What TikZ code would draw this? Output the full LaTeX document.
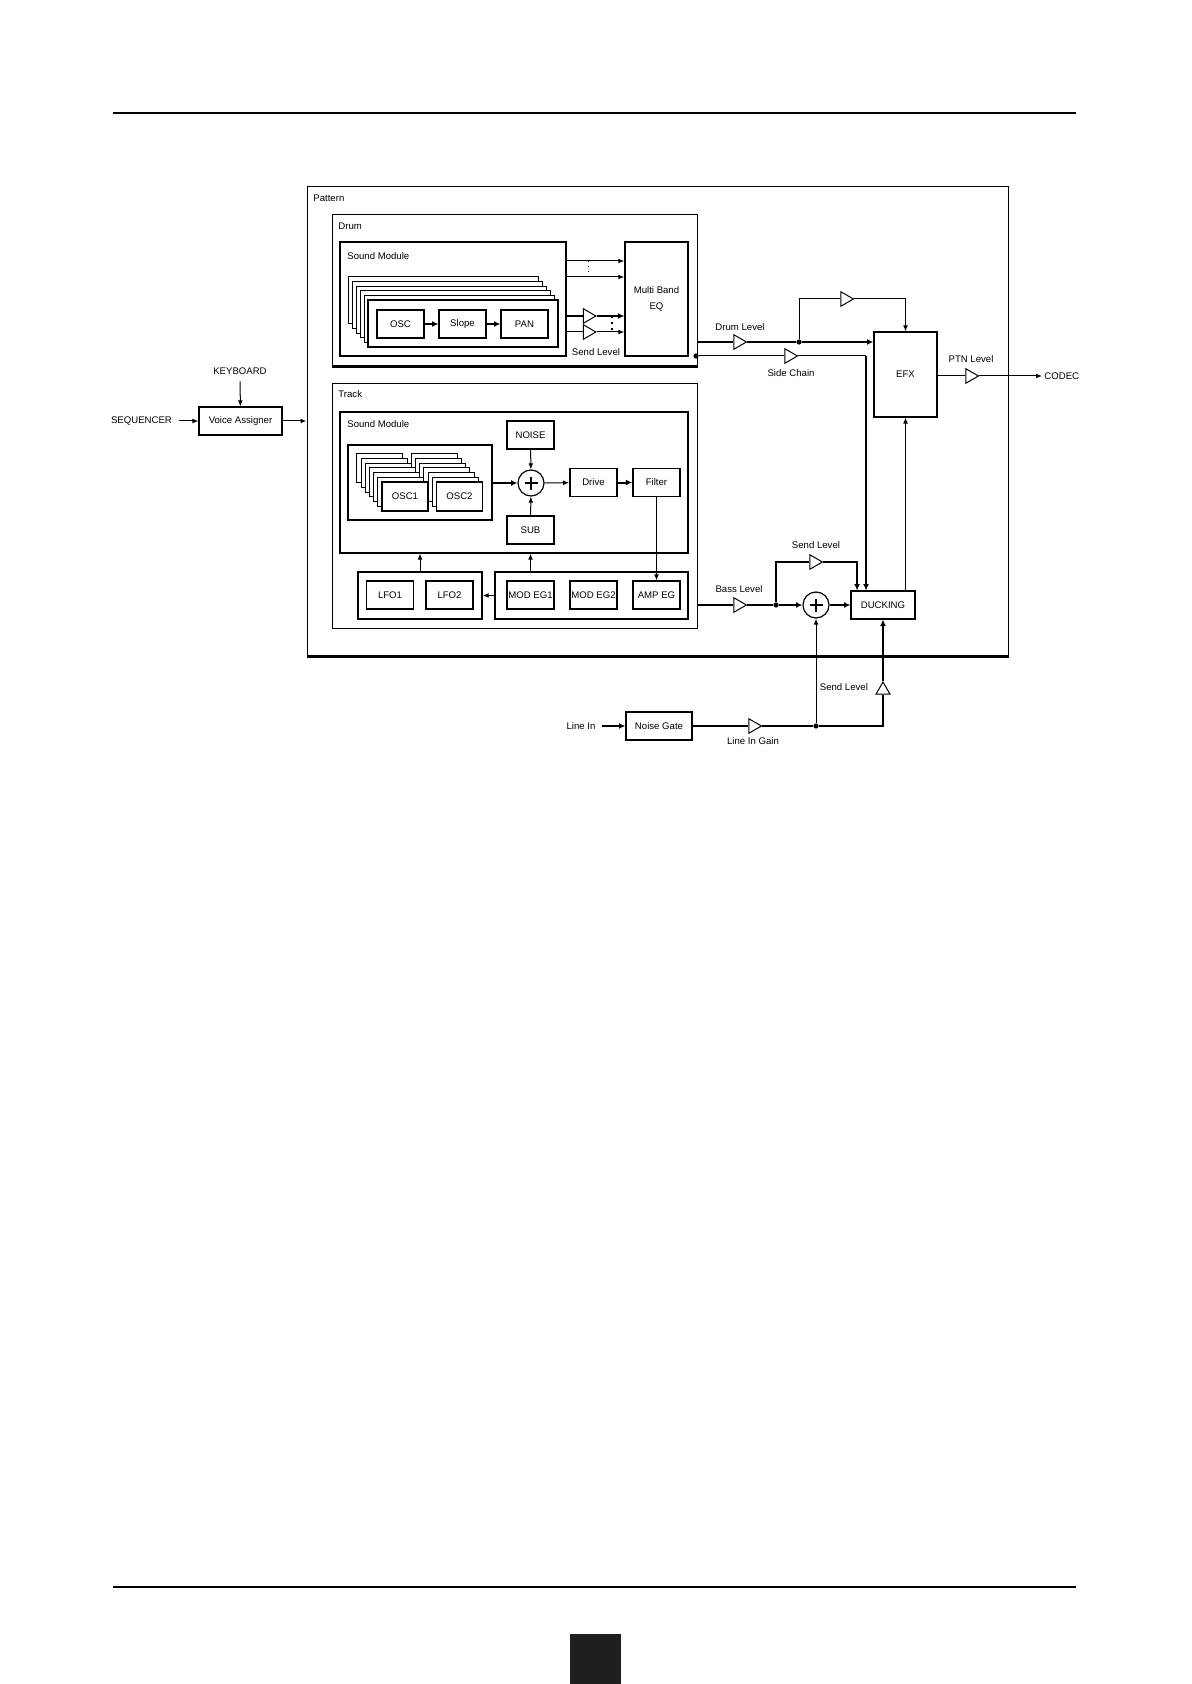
\documentclass[tikz,border=0pt]{standalone}
\usepackage{fontspec}
\setmainfont{Liberation Sans}
\usetikzlibrary{arrows.meta,shapes.geometric}
\newcommand{\dfont}{\fontsize{4.8}{5.6}\selectfont}
\begin{document}
\begin{tikzpicture}[x=0.5pt,y=-0.5pt,
    every node/.style={font=\dfont},
    frame/.style={draw, line width=0.5pt, inner sep=0pt},
    blk/.style={draw, line width=0.6pt, fill=white, inner sep=0pt,
                minimum width=23.5pt, minimum height=14pt},
    card/.style={draw, line width=0.5pt, fill=white, inner sep=0pt},
    amp/.style={draw, fill=white, regular polygon, regular polygon sides=3,
                shape border rotate=-90, inner sep=0pt, minimum size=8.4pt,
                line width=0.5pt},
    sum/.style={draw, circle, fill=white, inner sep=0pt, minimum size=13pt,
                line width=0.6pt},
    dot/.style={circle, fill, inner sep=0pt, minimum size=2.6pt},
    sig/.style={line width=0.5pt, -{Latex[length=3pt,width=2.4pt]}},
    bus/.style={line width=1pt},
    busarr/.style={line width=1pt, -{Latex[length=3.2pt,width=3pt]}}]
    \useasboundingbox (0,0) rectangle (1191,1684);

    % Page rules and tab
    \draw[line width=1pt] (113,113) -- (1076,113);
    \draw[line width=1pt] (113,1587) -- (1076,1587);
    \fill[black!88] (570,1634) rectangle (621,1684);

    % Frames
    \node[frame, minimum width=350.5pt, minimum height=234.5pt] (pattern) at (657.5,421.5) {};
    \draw[line width=1.1pt] (pattern.south west) -- (pattern.south east);
    \node[anchor=west, inner sep=0pt] at (313,198) {Pattern};
    \node[frame, minimum width=182.5pt, minimum height=75.5pt] (drum) at (514.5,290.5) {};
    \draw[line width=1.1pt] (drum.south west) -- (drum.south east);
    \node[anchor=west, inner sep=0pt] at (338,226) {Drum};
    \node[frame, line width=0.7pt, minimum width=113pt, minimum height=57pt] (dsm) at (453,299) {};
    \node[anchor=west, inner sep=0pt] at (347,256) {Sound Module};
    \node[frame, minimum width=182.5pt, minimum height=122pt] (track) at (514.5,506) {};
    \node[anchor=west, inner sep=0pt] at (338,394) {Track};
    \node[frame, line width=0.6pt, minimum width=174pt, minimum height=70.5pt] (tsm) at (514,482.5) {};
    \node[anchor=west, inner sep=0pt] at (347,424) {Sound Module};

    % Drum voices
    \foreach \k in {5,...,1}
        \node[card, minimum width=95pt, minimum height=23.5pt] at (463-4*\k,323.5-4.6*\k) {};
    \node[card, line width=0.8pt, minimum width=95pt, minimum height=23.5pt] (dfront) at (463,323.5) {};
    \node[blk] (osc) at (400.5,324) {OSC};
    \node[blk] (slope) at (462.5,324) {Slope};
    \node[blk] (pan) at (524.5,324) {PAN};
    \draw[busarr] (osc) -- (slope);
    \draw[busarr] (slope) -- (pan);

    % Multi band EQ and its inputs
    \node[blk, line width=0.7pt, minimum width=31.5pt, minimum height=57pt, align=center] (eq)
        at (656.5,299) {Multi Band\\[2.4pt]EQ};
    \coordinate (d1) at (566,261);
    \coordinate (d2) at (566,277);
    \draw[sig] (d1) -- (d1 -| eq.west);
    \draw[sig] (d2) -- (d2 -| eq.west);
    \draw[dotted, line width=0.5pt] (d1) ++(22,0) -- ++(0,16);
    \node[amp] (sa) at (587.5,316) {};
    \node[amp] (sb) at (587.5,332) {};
    \draw[bus] (dsm.east |- sa) -- (sa);
    \draw[busarr] (sa) -- (eq.west |- sa);
    \draw[line width=0.5pt] (dsm.east |- sb) -- (sb);
    \draw[sig] (sb) -- (eq.west |- sb);
    \draw[dotted, line width=1pt] (sa.center) ++(24,0) -- ++(0,16);
    \node at (596,352) {Send Level};

    % Track oscillators
    \node[frame, line width=0.7pt, minimum width=72pt, minimum height=37.5pt] (oscbox) at (420,482.5) {};
    \foreach \k in {6,...,1} {
        \node[card, minimum width=23pt, minimum height=14.5pt] at (405-4.2*\k,496.5-4.7*\k) {};
        \node[card, minimum width=23pt, minimum height=14.5pt] at (459.5-4.2*\k,496.5-4.7*\k) {};
    }
    \node[card, line width=0.8pt, minimum width=23pt, minimum height=14.5pt] (osc1) at (405,496.5) {OSC1};
    \node[card, line width=0.8pt, minimum width=23pt, minimum height=14.5pt] (osc2) at (459.5,496.5) {OSC2};

    \node[blk] (noise) at (530.5,435) {NOISE};
    \node[blk] (sub) at (530.5,530) {SUB};
    \node[sum] (s1) at (531,483) {};
    \draw[line width=0.9pt] (s1.center) ++(-6.5,0) -- ++(13,0) (s1.center) ++(0,-6.5) -- ++(0,13);
    \node[blk, line width=0.8pt] (drive) at (593.5,482.5) {Drive};
    \node[blk, line width=0.8pt] (filt) at (656.5,482.5) {Filter};
    \draw[busarr] (oscbox.east |- s1) -- (s1);
    \draw[sig] (noise) -- (s1);
    \draw[sig] (sub) -- (s1);
    \draw[sig] (s1) -- (drive);
    \draw[busarr] (drive) -- (filt);

    % Modulators
    \node[frame, line width=0.7pt, minimum width=62pt, minimum height=23.5pt] (lfobox) at (420,595.5) {};
    \node[frame, line width=0.7pt, minimum width=96.5pt, minimum height=23.5pt] (modbox) at (591.5,595.5) {};
    \node[blk] (lfo1) at (390,595) {LFO1};
    \node[blk] (lfo2) at (449.5,595) {LFO2};
    \node[blk] (meg1) at (530.5,595) {MOD EG1};
    \node[blk] (meg2) at (593.5,595) {MOD EG2};
    \node[blk] (ampeg) at (656.5,595) {AMP EG};
    \draw[sig] (filt) -- (ampeg);
    \draw[sig] (modbox) -- (lfobox);
    \draw[sig] (lfobox) -- (lfobox |- tsm.south);
    \draw[sig] (modbox.north -| meg1) -- (tsm.south -| meg1);

    % Voice assigner
    \node[blk, minimum width=41.5pt] (va) at (240.5,421) {Voice Assigner};
    \node (kbd) at (240,371) {KEYBOARD};
    \node (seq) at (141.5,421) {SEQUENCER};
    \draw[sig] (kbd) -- (va);
    \draw[sig] (seq) -- (va);
    \draw[sig] (va) -- (va -| pattern.west);

    % EFX section
    \node[blk, minimum width=31.5pt, minimum height=42.5pt] (efx) at (905.5,374.5) {EFX};
    \node[blk, minimum width=32pt] (duck) at (883,605) {DUCKING};
    \node[amp] (dl) at (738,342) {};
    \node[dot] (j1) at (799,342) {};
    \node[amp] (ea) at (845,299) {};
    \draw[bus] (drum.east |- dl) -- (dl) -- (j1);
    \draw[busarr] (j1) -- (efx.west |- j1);
    \draw[line width=0.5pt] (j1) |- (ea);
    \draw[sig] (ea) -| (efx.north);
    \node at (740,327) {Drum Level};

    \node[dot] (j2) at (696,356) {};
    \node[amp] (sc) at (789,356) {};
    \coordinate (scc) at (866,356);
    \draw[line width=0.5pt] (j2) -- (sc) -- (scc);
    \draw[busarr] (scc) -- (scc |- duck.north);
    \node at (791,373) {Side Chain};

    \node[amp] (ptn) at (970,376) {};
    \node[anchor=west, inner sep=1pt] (codec) at (1042,376) {CODEC};
    \draw[line width=0.5pt] (efx.east |- ptn) -- (ptn);
    \draw[sig] (ptn) -- (codec);
    \node at (971,359) {PTN Level};

    % Bass into ducking
    \node[amp] (bl) at (738,605) {};
    \node[dot] (j3) at (776,605) {};
    \node[sum] (s2) at (816,605) {};
    \draw[line width=0.9pt] (s2.center) ++(-6.5,0) -- ++(13,0) (s2.center) ++(0,-6.5) -- ++(0,13);
    \draw[bus] (track.east |- bl) -- (bl) -- (j3);
    \draw[busarr] (j3) -- (s2);
    \draw[busarr] (s2) -- (duck);
    \node[amp] (sl) at (814,562) {};
    \draw[bus] (j3) |- (sl);
    \draw[busarr] (sl) -| ([xshift=-13pt]duck.north);
    \draw[sig] (duck.north -| efx) -- (efx.south);
    \node at (739,589) {Bass Level};
    \node at (816,545) {Send Level};

    % Line input
    \node (linein) at (581,726) {Line In};
    \node[blk, minimum width=33pt] (ng) at (659,726) {Noise Gate};
    \node[amp] (lg) at (753,726) {};
    \node[dot] (j4) at (816,726) {};
    \node[amp, shape border rotate=0, minimum size=8pt] (sl2) at (883,690) {};
    \draw[busarr] (linein) -- (ng);
    \draw[bus] (ng) -- (lg) -- (j4);
    \draw[bus] (j4) -| (sl2);
    \draw[busarr] (sl2) -- (duck);
    \draw[sig] (j4) -- (s2);
    \node at (753,741) {Line In Gain};
    \node[anchor=east] at (875,687) {Send Level};
\end{tikzpicture}
\end{document}
